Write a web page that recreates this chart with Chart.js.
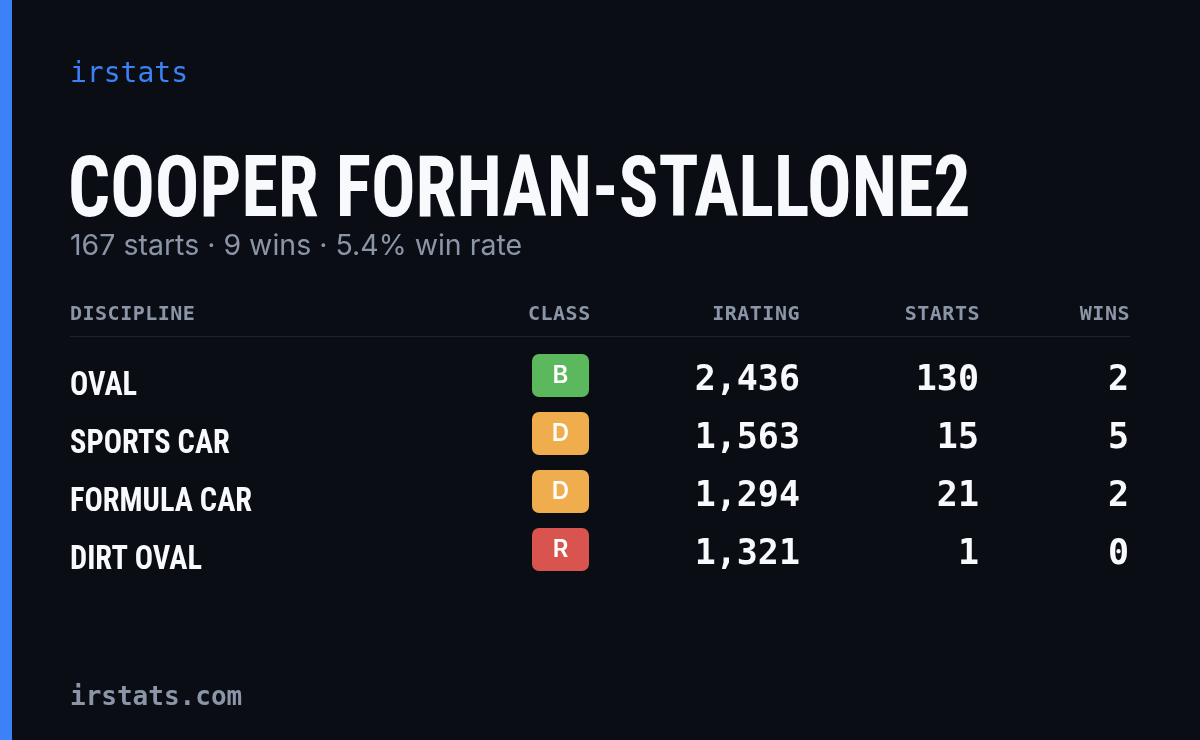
<!DOCTYPE html>
<html>
<head>
<meta charset="utf-8">
<script src="https://cdn.jsdelivr.net/npm/chart.js@4"></script>
<style>
  html, body { margin: 0; padding: 0; background: #0a0d14; }
  #card { position: relative; width: 1200px; height: 740px; overflow: hidden; background: #0a0d14; }
  #accent { position: absolute; left: 0; top: 0; width: 12px; height: 740px; background: #3b82f6; }
  canvas { position: absolute; left: 0; top: 0; }
  .t { position: absolute; white-space: nowrap; }
  #brand { left: 70px; top: 56px; font: 28px "DejaVu Sans Mono", monospace; color: #3b82f6; }
  #title { left: 68px; top: 136px; font: bold 86px "Roboto Condensed", sans-serif; color: #f8f9fc; transform: scaleX(0.86); transform-origin: left top; }
  #sub { left: 70px; top: 227px; font: 28.5px Inter, "Noto Sans", sans-serif; color: #8b95a8; }
  .h { top: 301px; font: 600 20px "DejaVu Sans Mono", monospace; color: #8b95a8; letter-spacing: 0.5px; }
  #rule { position: absolute; left: 70px; top: 336px; width: 1060px; height: 1px; background: #1c2230; }
  #foot { left: 70px; top: 681px; font: 600 26px "DejaVu Sans Mono", monospace; color: #8b95a8; }
</style>
</head>
<body>
<div id="card">
  <div id="accent"></div>
  <canvas id="myChart" width="1200" height="740"></canvas>
  <div class="t" id="brand">irstats</div>
  <div class="t" id="title">COOPER FORHAN-STALLONE2</div>
  <div class="t" id="sub">167 starts · 9 wins · 5.4% win rate</div>
  <div class="t h" style="left:70px">DISCIPLINE</div>
  <div class="t h" style="left:528px">CLASS</div>
  <div class="t h" style="right:400px">IRATING</div>
  <div class="t h" style="right:220px">STARTS</div>
  <div class="t h" style="right:70px">WINS</div>
  <div id="rule"></div>
  <div class="t" id="foot">irstats.com</div>
</div>
<script>
const disciplines = ["OVAL", "SPORTS CAR", "FORMULA CAR", "DIRT OVAL"];
const classes = ["B", "D", "D", "R"];
const iratings = [2436, 1563, 1294, 1321];
const starts = [130, 15, 21, 1];
const wins = [2, 5, 2, 0];

const classColors = { B: "#5cb85c", D: "#f0ad4e", R: "#d9534f" };

const tableRows = {
  id: "tableRows",
  afterDraw: (chart) => {
    const ctx = chart.ctx;
    const y = chart.scales.y;
    ctx.save();
    ctx.textBaseline = "middle";
    disciplines.forEach((name, i) => {
      const py = y.getPixelForValue(i);
      // condensed label
      ctx.save();
      ctx.translate(70, py + 7);
      ctx.scale(0.92, 1);
      ctx.fillStyle = "#f8f9fc";
      ctx.textAlign = "left";
      ctx.font = 'bold 33px "Roboto Condensed", sans-serif';
      ctx.fillText(name, 0, 0);
      ctx.restore();

      ctx.fillStyle = classColors[classes[i]];
      ctx.beginPath();
      ctx.roundRect(532, py - 26, 57, 43, 7);
      ctx.fill();
      ctx.fillStyle = "#ffffff";
      ctx.textAlign = "center";
      ctx.font = '600 24px Inter, sans-serif';
      ctx.fillText(classes[i], 560.5, py - 4);

      ctx.fillStyle = "#f8f9fc";
      ctx.textAlign = "right";
      ctx.font = '600 35px "DejaVu Sans Mono", monospace';
      ctx.fillText(iratings[i].toLocaleString("en-US"), 800, py + 1);
      ctx.fillText(String(starts[i]), 979, py + 1);
      ctx.fillText(String(wins[i]), 1129, py + 1);
    });
    ctx.restore();
  },
};

new Chart(document.getElementById("myChart"), {
  type: "bar",
  data: {
    labels: disciplines,
    datasets: [{ data: disciplines.map(() => null) }],
  },
  options: {
    responsive: false,
    animation: false,
    indexAxis: "y",
    layout: { padding: { top: 351, bottom: 157, left: 70, right: 70 } },
    scales: {
      x: { display: false, min: 0, max: 1 },
      y: { display: false, offset: true },
    },
    plugins: { legend: { display: false }, tooltip: { enabled: false } },
  },
  plugins: [tableRows],
});
</script>
</body>
</html>
